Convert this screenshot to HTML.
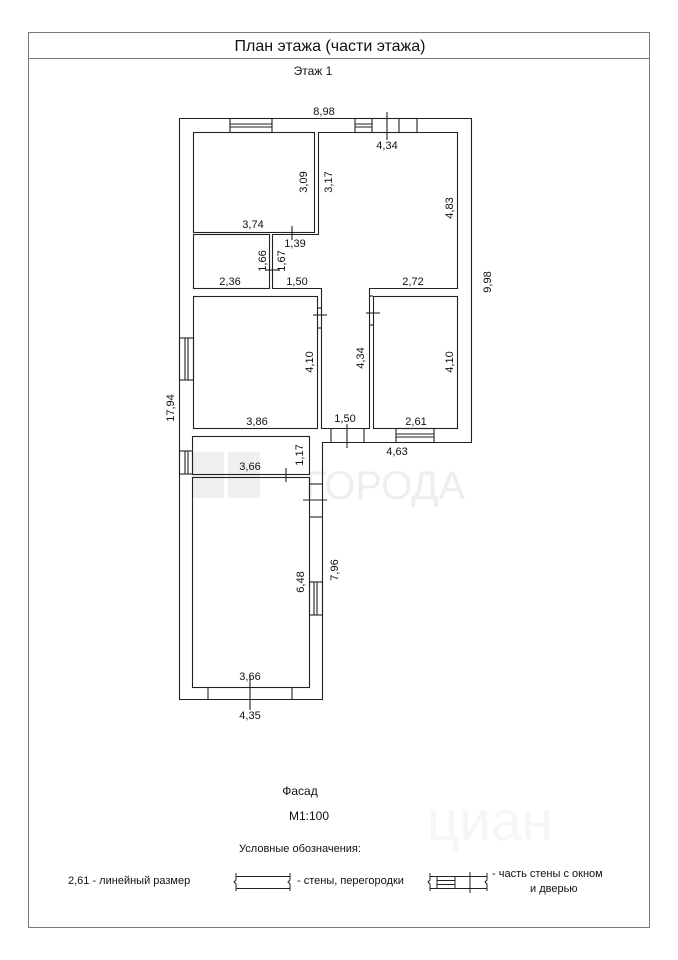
<!DOCTYPE html>
<html><head><meta charset="utf-8"><style>
html,body{margin:0;padding:0;background:#fff;}
svg{display:block;font-family:"Liberation Sans",sans-serif;}
text{font-size:11px;fill:#111;}
</style></head><body>
<svg width="678" height="960" viewBox="0 0 678 960" xmlns="http://www.w3.org/2000/svg">
<rect x="28.5" y="32.5" width="621" height="895" fill="none" stroke="#777" stroke-width="1"/>
<line x1="28" y1="58.5" x2="650" y2="58.5" stroke="#777"/>
<text x="330" y="51" text-anchor="middle" style="font-size:16px">План этажа (части этажа)</text>
<text x="313" y="75" text-anchor="middle" style="font-size:12px">Этаж 1</text>

<g opacity="0.06" fill="#000">
<rect x="192" y="452" width="32" height="46"/><rect x="228" y="452" width="32" height="46"/>
</g>
<text x="385" y="499" text-anchor="middle" style="font-size:40px;fill:#eee">ГОРОДА</text>
<text x="490" y="840" text-anchor="middle" style="font-size:56px;fill:#f6f6f6">циан</text>

<g fill="none" stroke="#222" stroke-width="1.1">
<polygon points="179.5,118.5 471.5,118.5 471.5,442.5 322.5,442.5 322.5,699.5 179.5,699.5"/>
<rect x="193.5" y="132.5" width="121" height="100"/>
<polygon points="318.5,132.5 457.5,132.5 457.5,288.5 369.5,288.5 369.5,428.5 321.5,428.5 321.5,288.5 272.5,288.5 272.5,234.5 318.5,234.5"/>
<rect x="193.5" y="234.5" width="76" height="54"/>
<rect x="193.5" y="296.5" width="124" height="132"/>
<rect x="373.5" y="296.5" width="84" height="132"/>
<rect x="192.5" y="436.5" width="117" height="38"/>
<rect x="192.5" y="477.5" width="117" height="210"/>
<rect x="230" y="118.5" width="42" height="14"/><line x1="230" y1="124" x2="272" y2="124"/><line x1="230" y1="127" x2="272" y2="127"/>
<rect x="355" y="118.5" width="62" height="14"/><line x1="372" y1="118" x2="372" y2="132"/><line x1="399" y1="118" x2="399" y2="132"/><line x1="355" y1="124" x2="372" y2="124"/><line x1="355" y1="127" x2="372" y2="127"/>
<rect x="179.5" y="338" width="14" height="42"/><line x1="185" y1="338" x2="185" y2="380"/><line x1="188" y1="338" x2="188" y2="380"/>
<rect x="179.5" y="451" width="13" height="23"/><line x1="185" y1="451" x2="185" y2="474"/><line x1="188" y1="451" x2="188" y2="474"/>
<rect x="396" y="428.5" width="38" height="14"/><line x1="396" y1="434" x2="434" y2="434"/><line x1="396" y1="437" x2="434" y2="437"/>
<rect x="309.5" y="582" width="13" height="33"/><line x1="314" y1="582" x2="314" y2="615"/><line x1="317" y1="582" x2="317" y2="615"/>
<line x1="331" y1="428" x2="331" y2="442"/><line x1="364" y1="428" x2="364" y2="442"/>
<line x1="208" y1="687" x2="208" y2="699"/><line x1="292" y1="687" x2="292" y2="699"/>
<line x1="309" y1="484" x2="322" y2="484"/><line x1="309" y1="517" x2="322" y2="517"/>
<line x1="318" y1="308" x2="321" y2="308"/><line x1="318" y1="328" x2="321" y2="328"/>
<line x1="369" y1="296" x2="373" y2="296"/><line x1="369" y1="325" x2="373" y2="325"/>
<line x1="387" y1="112" x2="387" y2="140"/>
<line x1="292" y1="226" x2="292" y2="240"/>
<line x1="266" y1="270" x2="280" y2="270"/>
<line x1="313" y1="315" x2="327" y2="315"/>
<line x1="366" y1="313" x2="380" y2="313"/>
<line x1="347" y1="424" x2="347" y2="448"/>
<line x1="286" y1="468" x2="286" y2="482"/>
<line x1="303" y1="500" x2="327" y2="500"/>
<line x1="250" y1="676" x2="250" y2="710"/>
</g>

<g>
<text x="324" y="115" text-anchor="middle">8,98</text>
<text x="387" y="149" text-anchor="middle">4,34</text>
<text x="303" y="182" text-anchor="middle" transform="rotate(-90 303 182)" dy="4">3,09</text>
<text x="328" y="182" text-anchor="middle" transform="rotate(-90 328 182)" dy="4">3,17</text>
<text x="449" y="208" text-anchor="middle" transform="rotate(-90 449 208)" dy="4">4,83</text>
<text x="487" y="282" text-anchor="middle" transform="rotate(-90 487 282)" dy="4">9,98</text>
<text x="253" y="228" text-anchor="middle">3,74</text>
<text x="295" y="247" text-anchor="middle">1,39</text>
<text x="262" y="261" text-anchor="middle" transform="rotate(-90 262 261)" dy="4">1,66</text>
<text x="281" y="261" text-anchor="middle" transform="rotate(-90 281 261)" dy="4">1,67</text>
<text x="230" y="285" text-anchor="middle">2,36</text>
<text x="297" y="285" text-anchor="middle">1,50</text>
<text x="413" y="285" text-anchor="middle">2,72</text>
<text x="309" y="362" text-anchor="middle" transform="rotate(-90 309 362)" dy="4">4,10</text>
<text x="360" y="358" text-anchor="middle" transform="rotate(-90 360 358)" dy="4">4,34</text>
<text x="449" y="362" text-anchor="middle" transform="rotate(-90 449 362)" dy="4">4,10</text>
<text x="170" y="408" text-anchor="middle" transform="rotate(-90 170 408)" dy="4">17,94</text>
<text x="257" y="425" text-anchor="middle">3,86</text>
<text x="345" y="422" text-anchor="middle">1,50</text>
<text x="416" y="425" text-anchor="middle">2,61</text>
<text x="397" y="455" text-anchor="middle">4,63</text>
<text x="250" y="470" text-anchor="middle">3,66</text>
<text x="299" y="455" text-anchor="middle" transform="rotate(-90 299 455)" dy="4">1,17</text>
<text x="300" y="582" text-anchor="middle" transform="rotate(-90 300 582)" dy="4">6,48</text>
<text x="334" y="570" text-anchor="middle" transform="rotate(-90 334 570)" dy="4">7,96</text>
<text x="250" y="680" text-anchor="middle">3,66</text>
<text x="250" y="719" text-anchor="middle">4,35</text>
</g>

<text x="300" y="795" text-anchor="middle" style="font-size:12px">Фасад</text>
<text x="309" y="820" text-anchor="middle" style="font-size:12px">М1:100</text>
<text x="300" y="852" text-anchor="middle">Условные обозначения:</text>
<text x="68" y="884">2,61 - линейный размер</text>
<g fill="none" stroke="#222" stroke-width="1">
<line x1="236" y1="876.5" x2="290" y2="876.5"/>
<line x1="236" y1="888.5" x2="290" y2="888.5"/>
<path d="M236 873 L236 880 L234 882 L236 884 L236 891"/>
<path d="M290 873 L290 880 L288 882 L290 884 L290 891"/>
<line x1="430" y1="876.5" x2="487" y2="876.5"/>
<line x1="430" y1="888.5" x2="487" y2="888.5"/>
<path d="M430 873 L430 880 L428 882 L430 884 L430 891"/>
<path d="M487 873 L487 880 L485 882 L487 884 L487 891"/>
<line x1="437" y1="876" x2="437" y2="889"/>
<line x1="455" y1="876" x2="455" y2="889"/>
<line x1="437" y1="880.5" x2="455" y2="880.5"/>
<line x1="437" y1="884.5" x2="455" y2="884.5"/>
<line x1="470" y1="872" x2="470" y2="893"/>
</g>
<text x="297" y="884">- стены, перегородки</text>
<text x="492" y="877">- часть стены с окном</text>
<text x="530" y="892">и дверью</text>
</svg>
</body></html>
